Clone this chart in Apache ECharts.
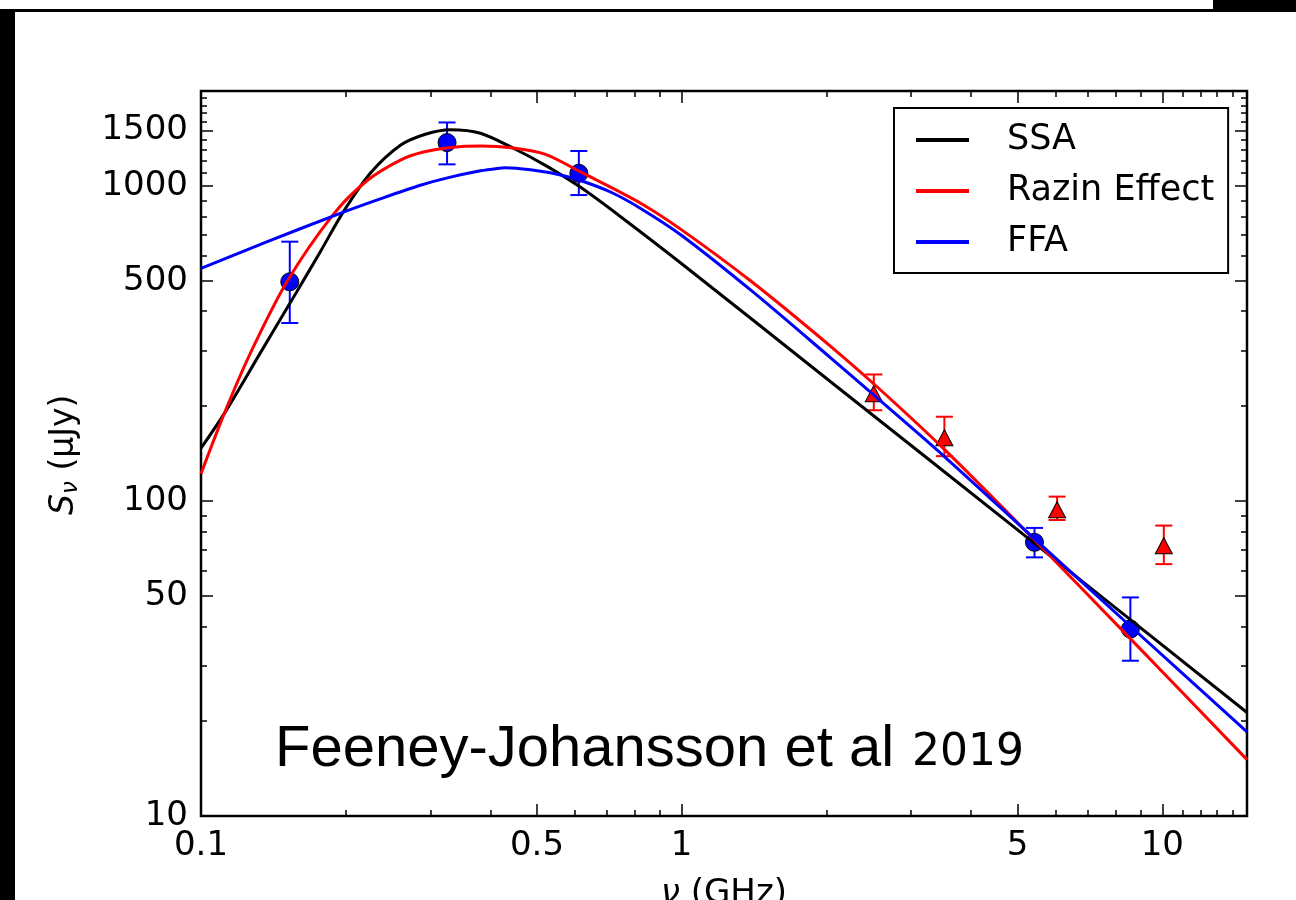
<!DOCTYPE html>
<html><head><meta charset="utf-8">
<script src="https://cdn.jsdelivr.net/npm/echarts@6/dist/echarts.min.js"></script>
<style>html,body{margin:0;padding:0;background:#fff}#c{width:1296px;height:900px}</style>
</head><body><div id="c"></div>
<script>
// ---- tick labels ----
const xMajorTicks = [0.1, 0.5, 1, 5, 10];
const xTickLabels = ['0.1', '0.5', '1', '5', '10'];
const xMinorTicks = [0.2, 0.3, 0.4, 0.6, 0.7, 0.8, 0.9, 2, 3, 4, 6, 7, 8, 9, 11, 12, 13, 14];
const yMajorTicks = [10, 50, 100, 500, 1000, 1500];
const yTickLabels = ['10', '50', '100', '500', '1000', '1500'];
const yMinorTicks = [20, 30, 40, 60, 70, 80, 90, 200, 300, 400, 600, 700, 800, 900, 1100, 1200, 1300, 1400, 1600, 1700, 1800, 1900];

// ---- measurements (GHz, uJy) ----
const circFreq = [0.153, 0.325, 0.611, 5.42, 8.58];
const circFlux = [496, 1372, 1096, 73.9, 39.2];
const circLo   = [367, 1170, 935, 66.2, 31.1];
const circHi   = [665, 1589, 1290, 82.1, 49.4];

const triFreq = [2.51, 3.52, 6.04, 10.07];
const triFlux = [219, 158.6, 93.8, 72.1];
const triLo   = [194, 138.7, 87, 63];
const triHi   = [252, 185, 103.2, 83.5];

// ---- model curves ----
const ssaFreq = [0.1, 0.1122, 0.1327, 0.1582, 0.177, 0.1979, 0.225, 0.2599, 0.2929, 0.3302, 0.3814, 0.4467, 0.525, 0.6162, 0.7464, 1.0, 2.044, 5.334, 15];
const ssaFlux = [147, 191, 294, 461, 617, 828, 1096, 1345, 1458, 1507, 1469, 1316, 1153, 989, 798, 566, 238.5, 74.8, 21.3];

const razFreq = [0.1, 0.1122, 0.1265, 0.1509, 0.1887, 0.2214, 0.2599, 0.2901, 0.3302, 0.3814, 0.4467, 0.5208, 0.6162, 0.8214, 1.0, 1.399, 2.044, 2.512, 3.515, 5.334, 8.616, 15];
const razFlux = [122, 192, 293, 496, 813, 1038, 1207, 1280, 1324, 1338, 1319, 1259, 1107, 881, 725, 496, 309, 235, 146, 77.1, 36.3, 15.1];

const ffaFreq = [0.1, 0.137, 0.1948, 0.236, 0.2859, 0.3255, 0.3814, 0.4135, 0.4299, 0.4847, 0.5597, 0.6162, 0.7112, 0.8214, 1.0, 1.399, 2.044, 2.512, 3.515, 5.334, 8.616, 15];
const ffaFlux = [547, 664, 818, 909, 1004, 1060, 1116, 1136, 1141, 1124, 1083, 1040, 956, 848, 696, 464, 284, 216.5, 138.6, 77.5, 39.8, 18.5];

const FONT = 'DejaVu Sans';
const GRID = {left: 201, top: 91, width: 1046, height: 725};
const xMax = 15, xMin = 0.1, yMin = 10, yMax = 2000;

const lg = v => Math.log10(v);
function labelFor(ticks, labels) {
  return v => { const i = ticks.findIndex(t => Math.abs(lg(t) - v) < 1e-6); return i >= 0 ? labels[i] : ''; };
}
function tickAxis(grid, pos, ticks, len, isX, withLabels, labels) {
  const ax = {
    gridIndex: grid, type: 'value', position: pos,
    min: isX ? lg(xMin) : lg(yMin), max: isX ? lg(xMax) : lg(yMax),
    axisLine: {show: false, onZero: false}, splitLine: {show: false},
    axisTick: {show: true, inside: true, length: len, lineStyle: {color: '#000', width: 1.5}, customValues: ticks.map(lg)},
    axisLabel: {show: false}
  };
  if (withLabels) {
    ax.axisLabel = {show: true, customValues: ticks.map(lg), formatter: labelFor(ticks, labels),
      margin: 13, fontSize: 34, fontFamily: FONT, color: '#000',
      padding: isX ? 0 : [12, 0, 0, 0]};
  }
  return ax;
}

function errRender(color) {
  return function (params, api) {
    const f = api.value(0);
    const lo = api.coord([f, api.value(2)]);
    const hi = api.coord([f, api.value(3)]);
    const hw = 8.5;
    const st = {stroke: color, lineWidth: 2};
    return {type: 'group', children: [
      {type: 'line', shape: {x1: lo[0], y1: lo[1], x2: hi[0], y2: hi[1]}, style: st},
      {type: 'line', shape: {x1: lo[0] - hw, y1: lo[1], x2: lo[0] + hw, y2: lo[1]}, style: st},
      {type: 'line', shape: {x1: hi[0] - hw, y1: hi[1], x2: hi[0] + hw, y2: hi[1]}, style: st}
    ]};
  };
}

const zip = (a, b) => a.map((v, i) => [v, b[i]]);

const chart = echarts.init(document.getElementById('c'), null, {renderer: 'canvas'});
chart.setOption({
  animation: false,
  backgroundColor: '#fff',
  textStyle: {fontFamily: FONT},
  grid: [
    Object.assign({show: true, borderColor: '#000', borderWidth: 2.5, backgroundColor: 'transparent'}, GRID),
    Object.assign({}, GRID), Object.assign({}, GRID), Object.assign({}, GRID), Object.assign({}, GRID)
  ],
  xAxis: [
    {gridIndex: 0, type: 'log', logBase: 10, min: xMin, max: xMax, show: false},
    tickAxis(1, 'bottom', xMajorTicks, 12, true, true, xTickLabels),
    tickAxis(2, 'top', xMajorTicks, 12, true, false),
    tickAxis(3, 'bottom', xMinorTicks, 6, true, false),
    tickAxis(4, 'top', xMinorTicks, 6, true, false)
  ],
  yAxis: [
    {gridIndex: 0, type: 'log', logBase: 10, min: yMin, max: yMax, show: false},
    tickAxis(1, 'left', yMajorTicks, 12, false, true, yTickLabels),
    tickAxis(2, 'right', yMajorTicks, 12, false, false),
    tickAxis(3, 'left', yMinorTicks, 6, false, false),
    tickAxis(4, 'right', yMinorTicks, 6, false, false)
  ],
  legend: {
    data: ['SSA', 'Razin Effect', 'FFA'],
    orient: 'vertical', left: 894, top: 108,
    icon: 'rect', itemWidth: 53, itemHeight: 4, itemGap: 11,
    borderColor: '#000', borderWidth: 2, borderRadius: 0,
    padding: [12, 14, 11, 22],
    backgroundColor: '#fff',
    textStyle: {fontSize: 35, fontFamily: FONT, color: '#000', lineHeight: 40, padding: [0, 0, 0, 33]}
  },
  series: [
    {type: 'custom', name: 'errC', xAxisIndex: 0, yAxisIndex: 0, z: 2,
      data: circFreq.map((f, i) => [f, circFlux[i], circLo[i], circHi[i]]),
      encode: {x: 0, y: [1, 2, 3]}, renderItem: errRender('#0000ff')},
    {type: 'custom', name: 'errT', xAxisIndex: 0, yAxisIndex: 0, z: 2,
      data: triFreq.map((f, i) => [f, triFlux[i], triLo[i], triHi[i]]),
      encode: {x: 0, y: [1, 2, 3]}, renderItem: errRender('#ff0000')},
    {type: 'scatter', name: 'circ', xAxisIndex: 0, yAxisIndex: 0, z: 3,
      data: zip(circFreq, circFlux), symbol: 'circle', symbolSize: 18,
      itemStyle: {color: '#0000ff', borderColor: '#000', borderWidth: 1, opacity: 1}},
    {type: 'scatter', name: 'tri', xAxisIndex: 0, yAxisIndex: 0, z: 3,
      data: zip(triFreq, triFlux), symbol: 'triangle', symbolSize: [17, 16],
      itemStyle: {color: '#ff0000', borderColor: '#000', borderWidth: 1, opacity: 1}},
    {type: 'line', name: 'SSA', xAxisIndex: 0, yAxisIndex: 0, z: 4, data: zip(ssaFreq, ssaFlux),
      smooth: 0.3, showSymbol: false, symbol: 'none', itemStyle: {color: '#000'}, lineStyle: {color: '#000', width: 3}},
    {type: 'line', name: 'Razin Effect', xAxisIndex: 0, yAxisIndex: 0, z: 4, data: zip(razFreq, razFlux),
      smooth: 0.3, showSymbol: false, symbol: 'none', itemStyle: {color: '#ff0000'}, lineStyle: {color: '#ff0000', width: 3}},
    {type: 'line', name: 'FFA', xAxisIndex: 0, yAxisIndex: 0, z: 4, data: zip(ffaFreq, ffaFlux),
      smooth: 0.3, showSymbol: false, symbol: 'none', itemStyle: {color: '#0000ff'}, lineStyle: {color: '#0000ff', width: 3}}
  ],
  graphic: [
    {type: 'rect', shape: {x: 0, y: 9, width: 1296, height: 3}, style: {fill: '#000'}, silent: true},
    {type: 'rect', shape: {x: 1213, y: 0, width: 83, height: 12}, style: {fill: '#000'}, silent: true},
    {type: 'rect', shape: {x: 0, y: 9, width: 15, height: 891}, style: {fill: '#000'}, silent: true},
    {type: 'text', x: 724, y: 894, silent: true,
      style: {text: '{i|ν} (GHz)', rich: {i: {fontStyle: 'italic', fontSize: 34, fontFamily: FONT}},
        fontSize: 34, fontFamily: FONT, fill: '#000', align: 'center', verticalAlign: 'middle'}},
    {type: 'group', x: 64, y: 455, rotation: Math.PI / 2, silent: true, children: [
      {type: 'text', x: -60, y: 0, style: {text: 'S', fontSize: 33, fontStyle: 'italic', fontFamily: FONT, fill: '#000', align: 'left', verticalAlign: 'middle'}},
      {type: 'text', x: -39, y: 7, style: {text: 'ν', fontSize: 23, fontStyle: 'italic', fontFamily: FONT, fill: '#000', align: 'left', verticalAlign: 'middle'}},
      {type: 'text', x: -26, y: 0, style: {text: ' (μJy)', fontSize: 33, fontFamily: FONT, fill: '#000', align: 'left', verticalAlign: 'middle'}}
    ]},
    {type: 'text', x: 275, y: 750, silent: true,
      style: {text: 'Feeney-Johansson et al', fontSize: 58, fontFamily: 'Liberation Sans', fill: '#000', align: 'left', verticalAlign: 'middle'}},
    {type: 'text', x: 912, y: 754, silent: true,
      style: {text: '2019', fontSize: 44, fontFamily: FONT, fill: '#000', align: 'left', verticalAlign: 'middle'}}
  ]
});
</script>
</body></html>
